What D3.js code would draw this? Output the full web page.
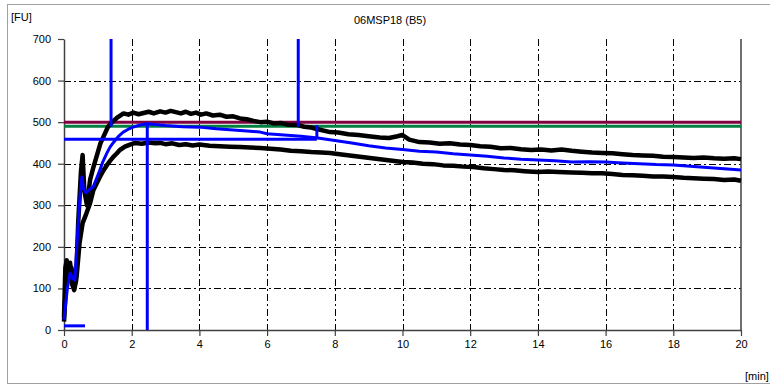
<!DOCTYPE html>
<html>
<head>
<meta charset="utf-8">
<script src="https://cdn.jsdelivr.net/npm/d3@7"></script>
<style>
  body { margin: 0; background: #fff; }
  svg { display: block; }
</style>
</head>
<body>
<svg id="chart" width="770" height="385"></svg>
<script>
// chart values
const title = "06MSP18 (B5)";
const xTicks = [0, 2, 4, 6, 8, 10, 12, 14, 16, 18, 20];
const yTicks = [0, 100, 200, 300, 400, 500, 600, 700];

// upper black curve [min, FU]
const upperBlack = [[0,30],[0.04,150],[0.08,168],[0.13,125],[0.18,162],[0.24,110],[0.3,96],[0.36,120],[0.42,260],[0.5,380],[0.55,421],[0.6,335],[0.68,300],[0.77,361],[0.87,392],[1.0,428],[1.08,450],[1.16,464],[1.3,489],[1.42,500],[1.56,510],[1.76,521],[1.9,518],[2.05,523],[2.2,519],[2.35,522],[2.5,525],[2.65,521],[2.84,526],[3.0,523],[3.15,527],[3.3,524],[3.45,521],[3.6,525],[3.75,520],[3.9,523],[4.05,518],[4.2,521],[4.4,516],[4.6,518],[4.8,513],[5.0,514],[5.2,509],[5.4,507],[5.6,503],[5.8,500],[6.0,501],[6.2,497],[6.4,498],[6.6,494],[6.9,493],[7.1,489],[7.3,487],[7.5,483],[7.86,476],[8.1,475],[8.4,471],[8.7,469],[9.0,466],[9.33,463],[9.6,462],[9.85,466],[10.0,469],[10.2,458],[10.5,452],[10.8,451],[11.1,448],[11.4,449],[11.7,446],[12.0,445],[12.3,442],[12.6,441],[12.9,437],[13.2,438],[13.5,435],[13.8,433],[14.1,434],[14.4,432],[14.7,434],[15.0,431],[15.3,429],[15.6,427],[15.9,426],[16.2,425],[16.5,423],[16.8,421],[17.1,420],[17.4,419],[17.7,417],[18.0,416],[18.3,415],[18.6,414],[18.9,415],[19.2,413],[19.5,412],[19.8,413],[20,411]];

// lower black curve [min, FU]
const lowerBlack = [[0,20],[0.06,110],[0.14,140],[0.22,150],[0.3,100],[0.38,135],[0.46,210],[0.55,257],[0.66,280],[0.77,305],[0.87,337],[0.96,352],[1.06,368],[1.16,383],[1.27,397],[1.36,407],[1.45,416],[1.55,424],[1.65,433],[1.8,441],[1.95,446],[2.1,450],[2.3,448],[2.5,451],[2.7,449],[2.84,450],[3.0,447],[3.2,449],[3.4,445],[3.6,447],[3.8,444],[4.0,446],[4.3,443],[4.6,442],[4.9,441],[5.2,440],[5.5,439],[5.8,438],[6.1,436],[6.4,434],[6.7,431],[7.0,430],[7.3,428],[7.6,427],[7.86,426],[8.2,422],[8.5,419],[8.8,416],[9.1,413],[9.4,410],[9.7,407],[10.0,404],[10.3,403],[10.6,400],[10.9,399],[11.2,396],[11.5,395],[11.8,393],[12.1,392],[12.4,389],[12.7,387],[13.0,385],[13.3,384],[13.6,382],[14.0,380],[14.3,381],[14.6,380],[15.0,379],[15.3,378],[15.6,377],[15.9,377],[16.2,375],[16.5,373],[16.8,372],[17.1,371],[17.4,369],[17.7,369],[18.0,368],[18.3,366],[18.6,365],[18.9,364],[19.2,363],[19.5,361],[19.8,362],[20,359]];

// blue mean curve [min, FU]
const blueMean = [[0,25],[0.1,100],[0.18,137],[0.25,125],[0.32,120],[0.42,257],[0.48,330],[0.53,368],[0.58,338],[0.65,330],[0.75,338],[0.86,344],[0.95,362],[1.06,385],[1.15,405],[1.27,426],[1.36,440],[1.45,450],[1.6,465],[1.75,476],[1.9,483],[2.04,488],[2.25,493],[2.45,496],[2.75,494],[3.0,492],[3.5,489],[4.0,488],[4.5,484],[5.0,481],[5.5,478],[5.8,476],[6.0,472],[6.5,469],[7.0,466],[7.5,462],[8.0,456],[8.5,450],[9.0,443],[9.5,438],[10.0,434],[10.5,430],[11.0,428],[11.5,424],[12.0,421],[12.5,418],[13.0,414],[13.5,411],[14.0,409],[14.5,407],[15.0,404],[15.5,405],[16.0,404],[16.5,402],[17.0,400],[17.5,398],[18.0,397],[18.5,394],[19.0,391],[19.5,388],[20,385]];

// flat reference levels
const maroonLevel = 500;
const greenLevel = 490;

// blue marker segments [[x1,y1],[x2,y2]] in data units
const blueMarks = [
  [[1.39, 700], [1.39, 489]],
  [[2.46, 498], [2.46, 0]],
  [[6.92, 700], [6.92, 489]],
  [[7.47, 459], [7.47, 493]],
  [[0, 459], [7.47, 459]],
  [[0, 10], [0.62, 10]]
];

const svg = d3.select("#chart");
const font = "'Liberation Sans', Arial, sans-serif";

// panel border
svg.append("rect")
  .attr("x", 7.5).attr("y", 4.5)
  .attr("width", 780).attr("height", 379)
  .attr("fill", "#fff")
  .attr("stroke", "#a0a0a0");

const x = d3.scaleLinear().domain([0, 20]).range([64, 741]);
const y = d3.scaleLinear().domain([0, 700]).range([330, 39]);

// grid, dash-dot
const grid = svg.append("g")
  .attr("stroke", "#000")
  .attr("stroke-width", 1)
  .attr("stroke-dasharray", "7,3,2,3");

grid.selectAll("line.v")
  .data(xTicks.filter(d => d > 0 && d < 20))
  .enter().append("line")
    .attr("x1", d => Math.round(x(d)) + 0.5)
    .attr("x2", d => Math.round(x(d)) + 0.5)
    .attr("y1", y(700))
    .attr("y2", y(0));

grid.selectAll("line.h")
  .data(yTicks.filter(d => d > 0 && d < 700))
  .enter().append("line")
    .attr("x1", x(0))
    .attr("x2", x(20))
    .attr("y1", d => Math.round(y(d)) + 0.5)
    .attr("y2", d => Math.round(y(d)) + 0.5);

// axes
const yAxis = svg.append("g")
  .attr("transform", `translate(${x(0)},0)`)
  .call(d3.axisLeft(y).tickValues(yTicks).tickSize(6).tickSizeOuter(0).tickPadding(7));

const xAxis = svg.append("g")
  .attr("transform", `translate(0,${y(0)})`)
  .call(d3.axisBottom(x).tickValues(xTicks).tickSize(6).tickSizeOuter(0).tickPadding(4));

[yAxis, xAxis].forEach(a => {
  a.select(".domain").attr("stroke", "#404040").attr("stroke-width", 1.5);
  a.selectAll(".tick line").attr("stroke", "#404040").attr("stroke-width", 1.2);
  a.selectAll("text")
    .attr("font-family", font)
    .attr("font-size", 11)
    .attr("fill", "#000");
});

// right frame
svg.append("line")
  .attr("x1", x(20)).attr("x2", x(20))
  .attr("y1", y(700)).attr("y2", y(0))
  .attr("stroke", "#404040")
  .attr("stroke-width", 1.5);

// level lines
svg.append("line")
  .attr("x1", x(0)).attr("x2", x(20))
  .attr("y1", y(greenLevel)).attr("y2", y(greenLevel))
  .attr("stroke", "#008040")
  .attr("stroke-width", 3);

svg.append("line")
  .attr("x1", x(0)).attr("x2", x(20))
  .attr("y1", y(maroonLevel)).attr("y2", y(maroonLevel))
  .attr("stroke", "#800040")
  .attr("stroke-width", 3);

const line = d3.line()
  .x(d => x(d[0]))
  .y(d => y(d[1]));

svg.append("path")
  .datum(lowerBlack)
  .attr("d", line)
  .attr("fill", "none")
  .attr("stroke", "#000")
  .attr("stroke-width", 4.5)
  .attr("stroke-linejoin", "round");

svg.append("path")
  .datum(upperBlack)
  .attr("d", line)
  .attr("fill", "none")
  .attr("stroke", "#000")
  .attr("stroke-width", 4.5)
  .attr("stroke-linejoin", "round");

svg.append("path")
  .datum(blueMean)
  .attr("d", line)
  .attr("fill", "none")
  .attr("stroke", "#0000ff")
  .attr("stroke-width", 3)
  .attr("stroke-linejoin", "round");

svg.selectAll("line.mark")
  .data(blueMarks)
  .enter().append("line")
    .attr("x1", d => x(d[0][0]))
    .attr("y1", d => y(d[0][1]))
    .attr("x2", d => x(d[1][0]))
    .attr("y2", d => y(d[1][1]))
    .attr("stroke", "#0000ff")
    .attr("stroke-width", 3);

// labels
svg.append("text")
  .attr("x", 390).attr("y", 24)
  .attr("text-anchor", "middle")
  .attr("font-family", font)
  .attr("font-size", 11)
  .text(title);

svg.append("text")
  .attr("x", 11).attr("y", 21)
  .attr("font-family", font)
  .attr("font-size", 11)
  .text("[FU]");

svg.append("text")
  .attr("x", 745).attr("y", 380)
  .attr("font-family", font)
  .attr("font-size", 11)
  .text("[min]");
</script>
</body>
</html>
